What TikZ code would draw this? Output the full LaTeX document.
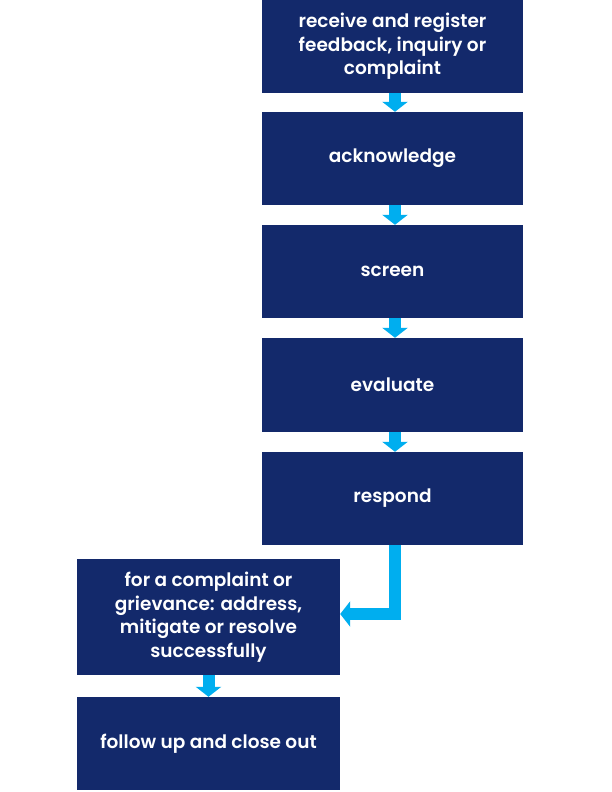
\documentclass[tikz,border=0pt]{standalone}
\usepackage{fontspec}
\setmainfont{Poppins}[UprightFont=* Medium, BoldFont=* SemiBold]
\usetikzlibrary{arrows.meta}
\definecolor{navy}{HTML}{13296B}
\definecolor{cyanarr}{HTML}{00AEEF}
\begin{document}
\begin{tikzpicture}[x=1pt,y=-1pt,
  box/.style={fill=navy, text=white, inner sep=0pt, align=center,
    font=\fontsize{18.5}{23.5}\selectfont\bfseries},
  arr/.style={draw=cyanarr, line width=12pt,
    -{Triangle[width=25pt,length=10pt]}}]
\useasboundingbox[fill=white] (0,0) rectangle (612,792);
\node[box, minimum width=261pt, minimum height=93pt] (b1) at (392.5,46.5)
  {receive and register\\feedback, inquiry or\\complaint};
\node[box, minimum width=261pt, minimum height=93pt] (b2) at (392.5,158.5) {acknowledge};
\node[box, minimum width=261pt, minimum height=93pt] (b3) at (392.5,271.5) {screen};
\node[box, minimum width=261pt, minimum height=94pt] (b4) at (392.5,385) {evaluate};
\node[box, minimum width=261pt, minimum height=93pt] (b5) at (392.5,498.5) {respond};
\node[box, minimum width=263pt, minimum height=116pt] (b6) at (208.5,617)
  {for a complaint or\\grievance: address,\\mitigate or resolve\\successfully};
\node[box, minimum width=263pt, minimum height=93pt] (b7) at (208.5,743.5) {follow up and close out};
\draw[arr] ([xshift=2.5pt]b1.south) -- ([xshift=2.5pt]b2.north);
\draw[arr] ([xshift=2.5pt]b2.south) -- ([xshift=2.5pt]b3.north);
\draw[arr] ([xshift=2.5pt]b3.south) -- ([xshift=2.5pt]b4.north);
\draw[arr] ([xshift=2.5pt]b4.south) -- ([xshift=2.5pt]b5.north);
\draw[arr] ([xshift=2.5pt]b5.south) |- ([yshift=3pt]b6.east);
\draw[arr] (b6.south) -- (b7.north);
\end{tikzpicture}
\end{document}
